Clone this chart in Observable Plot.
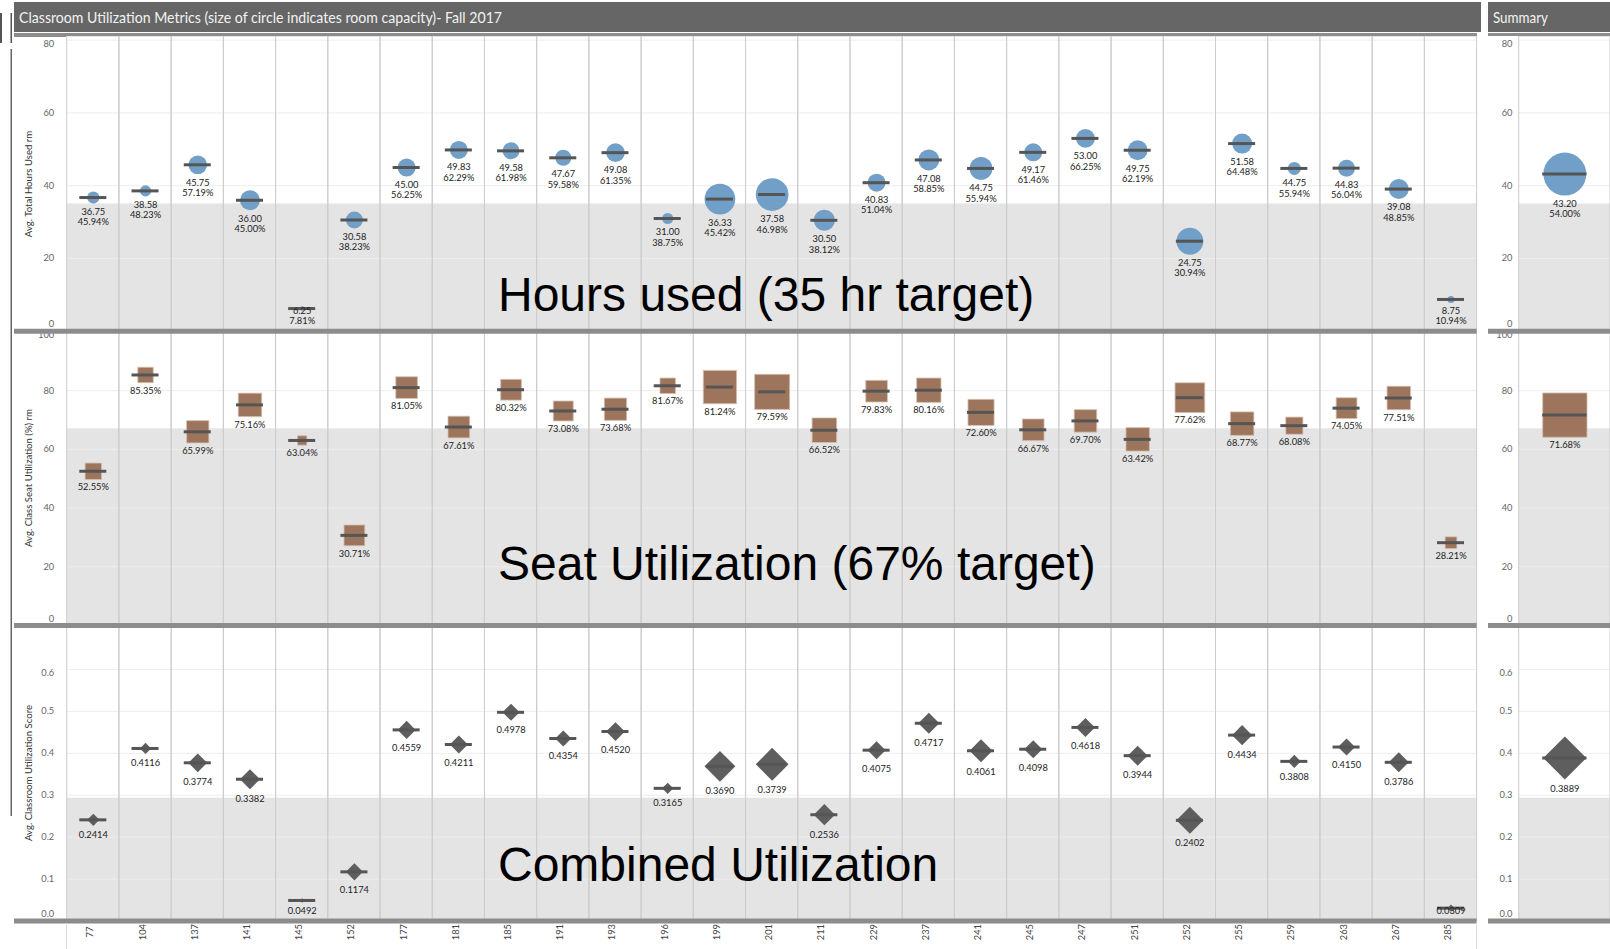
<!DOCTYPE html>
<html><head><meta charset="utf-8">
<script src="https://cdn.jsdelivr.net/npm/d3@7"></script>
<script src="https://cdn.jsdelivr.net/npm/@observablehq/plot@0.6"></script>
<style>
html,body{margin:0;padding:0;background:#fff;}
#root{position:relative;width:1610px;height:949px;overflow:hidden;font-family:Lato,sans-serif;}
#root svg{position:absolute;}
</style></head><body><div id="root"></div>
<script>
// ---------------- data ----------------
const rooms = ["77","104","137","141","145","152","177","181","185","191","193","196","199","201","211","229","237","241","245","247","251","252","255","259","263","267","285"];
const hoursUsed = [36.75,38.58,45.75,36.00,6.25,30.58,45.00,49.83,49.58,47.67,49.08,31.00,36.33,37.58,30.50,40.83,47.08,44.75,49.17,53.00,49.75,24.75,51.58,44.75,44.83,39.08,8.75];
const hoursPct = [45.94,48.23,57.19,45.00,7.81,38.23,56.25,62.29,61.98,59.58,61.35,38.75,45.42,46.98,38.12,51.04,58.85,55.94,61.46,66.25,62.19,30.94,64.48,55.94,56.04,48.85,10.94];
const seatUtil = [52.55,85.35,65.99,75.16,63.04,30.71,81.05,67.61,80.32,73.08,73.68,81.67,81.24,79.59,66.52,79.83,80.16,72.60,66.67,69.70,63.42,77.62,68.77,68.08,74.05,77.51,28.21];
const combinedScore = [0.2414,0.4116,0.3774,0.3382,0.0492,0.1174,0.4559,0.4211,0.4978,0.4354,0.4520,0.3165,0.3690,0.3739,0.2536,0.4075,0.4717,0.4061,0.4098,0.4618,0.3944,0.2402,0.4434,0.3808,0.4150,0.3786,0.0309];
const roomCapacity = [30,25,70,80,4,58,65,65,58,52,70,25,190,215,90,65,88,105,65,72,80,145,80,34,58,80,10];

const summaryName = ["Summary"];
const summaryHours = [43.20];
const summaryHoursPct = [54.00];
const summarySeat = [71.68];
const summaryScore = [0.3889];
const summaryCapacity = [370];

const hoursTicks = [0,20,40,60,80];
const seatTicks = [0,20,40,60,80,100];
const scoreTicks = [0,0.1,0.2,0.3,0.4,0.5,0.6];
const scoreTickLabels = ["0.0","0.1","0.2","0.3","0.4","0.5","0.6"];

const hoursTarget = 35, seatTarget = 67, scoreTarget = 0.2931;

const titleText = "Classroom Utilization Metrics (size of circle indicates room capacity)- Fall 2017";
const summaryTitle = "Summary";
const yTitles = ["Avg. Total Hours Used rm","Avg. Class Seat Utilization (%) rm","Avg. Classroom Utilization Score"];
const bigLabels = ["Hours used (35 hr target)","Seat Utilization (67% target)","Combined Utilization"];

// ---------------- tables ----------------
const mainData = rooms.map((room,i)=>({room, hours:hoursUsed[i], pct:hoursPct[i], seat:seatUtil[i], score:combinedScore[i], cap:roomCapacity[i]}));
const sumData = summaryName.map((room,i)=>({room, hours:summaryHours[i], pct:summaryHoursPct[i], seat:summarySeat[i], score:summaryScore[i], cap:summaryCapacity[i]}));

const CAP_MAX = 370;
const root = document.getElementById("root");

const rowsSpec = [
  {top:35.7, height:294.8, domain:[0,81], target:hoursTarget, ticks:hoursTicks, tickFmt:(d)=>String(d),
   yKey:"hours", symbol:"circle", fill:"#719fc7", stroke:"none", rRange:[0,21.45], half:1, gap:4, lines:2,
   label:d=>d.hours.toFixed(2)+"\n"+d.pct.toFixed(2)+"%"},
  {top:330.4, height:295, domain:[0,100.5], target:seatTarget, ticks:seatTicks, tickFmt:(d)=>String(d),
   yKey:"seat", symbol:"square", fill:"#9c755c", stroke:"#d6bfae", rRange:[3,25], half:0.886, gap:3.5, lines:1,
   label:d=>d.seat.toFixed(2)+"%"},
  {top:626, height:294.6, domain:[0,0.7024], target:scoreTarget, ticks:scoreTicks, tickFmt:(d)=>scoreTickLabels[scoreTicks.indexOf(d)],
   yKey:"score", symbol:"diamond2", fill:"#5e5e5e", stroke:"none", rRange:[0,19.4], half:1.11, gap:5, lines:1,
   label:d=>d.score.toFixed(4)}
];

function panel(spec, data, xDomain, geo, xLabels){
  const {height, domain, target, ticks, tickFmt, yKey, symbol, fill, stroke, rRange, half, gap, lines, label} = spec;
  const yS = Plot.scale({y:{domain, range:[height,0]}});
  const rS = Plot.scale({r:{type:"sqrt", domain:[0,CAP_MAX], range:rRange}});
  const tickFont = {fontSize:9.3, fill:"#666", fontFamily:"Lato, sans-serif", frameAnchor:"left", textAnchor:"end", dx:-geo.tickDx};
  const marks = [
    Plot.barY(xDomain, {x:d=>d, y1:0, y2:target, fill:"#e4e4e4"}),
    Plot.ruleY(ticks.filter(t=>t>0), {stroke:"#ededed", strokeWidth:1}),
    Plot.barY(xDomain, {x:d=>d, y1:0, y2:domain[1], fill:"none", stroke:"#cccccc", strokeWidth:1}),
    Plot.dot(data, {x:"room", y:yKey, r:"cap", symbol, fill, stroke, strokeWidth:0.8}),
    Plot.tickY(data, {x:"room", y:yKey, stroke:"#555555", strokeWidth:3, insetLeft:geo.dash, insetRight:geo.dash}),
    ...data.map(d=>{
      const py = yS.apply(d[yKey]);
      const h = rS.apply(d.cap) * half;
      const th = lines*10.4;
      const off = Math.min(h+gap, height-4-th-py);
      return Plot.text([d], {x:"room", y:yKey, text:label, lineAnchor:"top", dy:off, fontSize:9.3, lineHeight:1.12, fill:"#222", fontFamily:"Lato, sans-serif"});
    }),
    Plot.text(ticks.slice(1,-1), {y:d=>d, text:tickFmt, ...tickFont}),
    Plot.text(ticks.slice(-1), {y:d=>d, text:tickFmt, dy:3.5, ...tickFont}),
    Plot.text(ticks.slice(0,1), {y:d=>d, text:tickFmt, lineAnchor:"bottom", dy:-4, ...tickFont}),
    Plot.ruleY([0], {stroke:"#8c8c8c", strokeWidth:5, insetLeft:-geo.barExt})
  ];
  if (xLabels) {
    marks.push(Plot.text(xDomain, {x:d=>d, text:d=>d, frameAnchor:"bottom", rotate:-90, dy:11, fontSize:9.3, fill:"#444", fontFamily:"Lato, sans-serif"}));
  }
  const svg = Plot.plot({
    width:geo.width, height, marginLeft:geo.ml, marginRight:geo.mr, marginTop:0, marginBottom:0,
    x:{type:"band", domain:xDomain, padding:0, round:false, axis:null},
    y:{domain, axis:null},
    r:{type:"sqrt", domain:[0,CAP_MAX], range:rRange},
    style:{background:"transparent", overflow:"visible", fontFamily:"Lato, sans-serif"},
    marks
  });
  svg.style.position = "absolute";
  svg.style.left = geo.left+"px";
  svg.style.top = spec.top+"px";
  root.appendChild(svg);
}

const mainGeo = {left:0, width:1477, ml:66.7, mr:0.4, dash:12.6, tickDx:13, barExt:52.7};
const sumGeo = {left:1488, width:122, ml:30.7, mr:0, dash:23.5, tickDx:6.7, barExt:30.7};

[2,1,0].forEach(i=>{
  panel(rowsSpec[i], mainData, rooms, mainGeo, i===2);
  panel(rowsSpec[i], sumData, summaryName, sumGeo, false);
});

// ---------------- decorations / titles ----------------
const ov = d3.select(root).append("svg").attr("width",1610).attr("height",949)
  .style("left","0px").style("top","0px").style("pointer-events","none");
ov.append("rect").attr("x",14).attr("y",2).attr("width",1467).attr("height",30).attr("fill","#666");
ov.append("rect").attr("x",1488).attr("y",2).attr("width",122).attr("height",30).attr("fill","#666");
ov.append("text").attr("x",19).attr("y",22.5).attr("fill","#f2f2f2").attr("font-size",15)
  .attr("font-family","Lato, sans-serif").attr("textLength",483).attr("lengthAdjust","spacingAndGlyphs").text(titleText);
ov.append("text").attr("x",1493).attr("y",22.5).attr("fill","#f2f2f2").attr("font-size",15)
  .attr("font-family","Lato, sans-serif").attr("textLength",55).attr("lengthAdjust","spacingAndGlyphs").text(summaryTitle);
ov.append("rect").attr("x",14).attr("y",33).attr("width",1463).attr("height",3).attr("fill","#8c8c8c");
ov.append("rect").attr("x",14).attr("y",33).attr("width",52).attr("height",4).attr("fill","#8c8c8c");
ov.append("rect").attr("x",1488).attr("y",33).attr("width",122).attr("height",3).attr("fill","#8c8c8c");
// left frame lines
ov.append("rect").attr("x",0).attr("y",13).attr("width",2).attr("height",30).attr("fill","#555");
ov.append("rect").attr("x",10.5).attr("y",13).attr("width",1.5).attr("height",30).attr("fill","#555");
ov.append("rect").attr("x",10.5).attr("y",49).attr("width",1.5).attr("height",767).attr("fill","#666");
// x-axis area borders
ov.append("rect").attr("x",66).attr("y",923).attr("width",1).attr("height",26).attr("fill","#dcdcdc");
ov.append("rect").attr("x",1476).attr("y",923).attr("width",1).attr("height",26).attr("fill","#dcdcdc");
// y-axis titles
const yTitlePos = [184, 478, 773];
yTitles.forEach((t,i)=>{
  ov.append("text").attr("transform",`translate(32,${yTitlePos[i]}) rotate(-90)`).attr("text-anchor","middle")
    .attr("font-size",9.6).attr("font-family","Lato, sans-serif").attr("fill","#333").text(t);
});
// big overlay labels
const bigBase = [311, 580, 881];
bigLabels.forEach((t,i)=>{
  ov.append("text").attr("x",498).attr("y",bigBase[i]).attr("font-size",48)
    .attr("font-family","'Liberation Sans', Arial, sans-serif").attr("fill","#000").text(t);
});
</script></body></html>
